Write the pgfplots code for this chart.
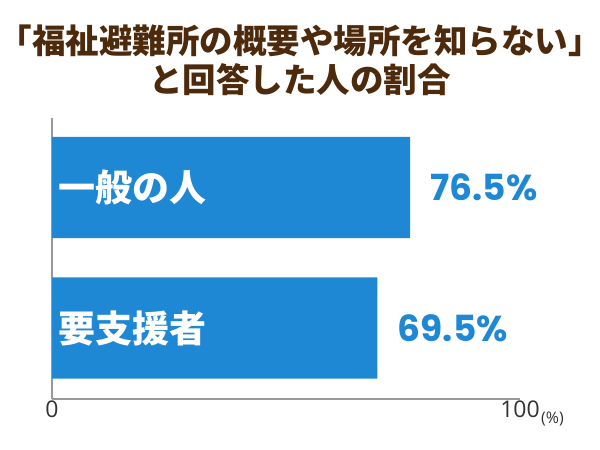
\documentclass[border=0pt]{standalone}
\usepackage{pgfplots}
\pgfplotsset{compat=1.18}
\usepackage{fontspec}
\setmainfont{Open Sans}
\newfontfamily\jp{Noto Sans CJK JP}
\newfontfamily\numfont{Poppins}
\newcommand{\tickfont}{\fontsize{23bp}{26bp}\selectfont}
\definecolor{barblue}{HTML}{1E88D4}
\definecolor{titlebrown}{HTML}{4E2A0C}
\definecolor{axisgray}{HTML}{999999}
\definecolor{ticktext}{HTML}{333333}
\begin{document}
\begin{tikzpicture}
\useasboundingbox (0,0) rectangle (600bp,450bp);
\node[text=titlebrown, font=\jp\bfseries\fontsize{33.5bp}{36bp}\selectfont, inner sep=0] at (300bp,409bp) {「福祉避難所の概要や場所を知らない」};
\node[text=titlebrown, font=\jp\bfseries\fontsize{33.5bp}{36bp}\selectfont, inner sep=0] at (300bp,370bp) {と回答した人の割合};
\begin{axis}[
  at={(52bp,51bp)}, anchor=south west,
  scale only axis,
  width=468bp, height=281bp,
  xmin=0, xmax=100, ymin=0.495, ymax=2.495,
  axis x line*=bottom, axis y line*=left,
  axis line style={axisgray, line width=1.5pt},
  every inner x axis line/.append style={-},
  every inner y axis line/.append style={-},
  xtick={0,100}, xticklabels={{\tickfont 0},{\tickfont 100}},
  xtick style={draw=none}, ytick=\empty,
  xticklabel style={text=ticktext, yshift=2bp, font=\tickfont},
  /pgf/number format/assume math mode=true,
  xbar, bar width=0.72,
  clip=false,
  nodes near coords={\pgfmathprintnumber[fixed,precision=1,fixed zerofill]{\pgfplotspointmeta}\%},
  nodes near coords style={font=\numfont\bfseries\fontsize{36bp}{40bp}\selectfont, text=barblue, anchor=west, xshift=17bp},
]
\addplot[fill=barblue, draw=none] coordinates {(76.5,2) (69.5,1)};
\node[anchor=west, text=white, font=\jp\bfseries\fontsize{37bp}{40bp}\selectfont, inner sep=0] at (axis cs:0,2) {\hspace{6bp}一般の人};
\node[anchor=west, text=white, font=\jp\bfseries\fontsize{37bp}{40bp}\selectfont, inner sep=0] at (axis cs:0,1) {\hspace{6bp}要支援者};
\end{axis}
\node[anchor=west, text=ticktext, font=\fontsize{16bp}{18bp}\selectfont, inner sep=0] at (541bp,31bp) {(\%)};
\end{tikzpicture}
\end{document}
